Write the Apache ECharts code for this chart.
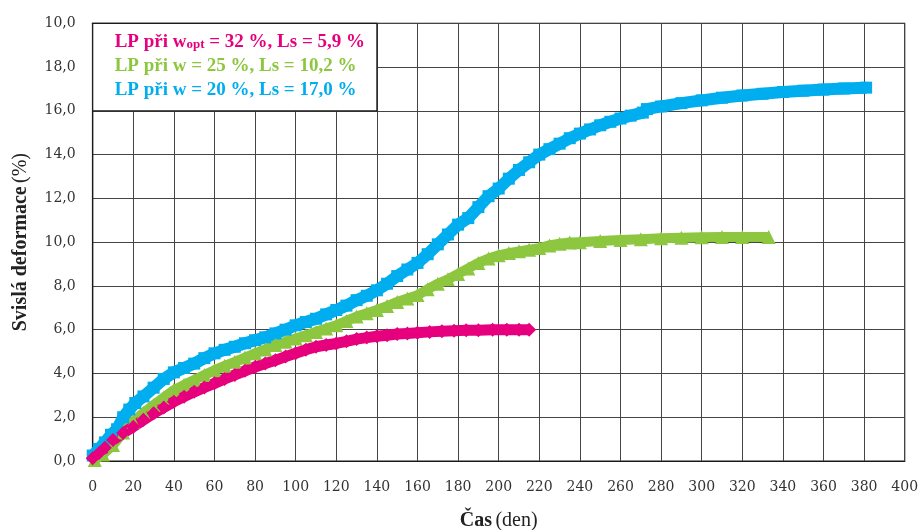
<!DOCTYPE html>
<html>
<head>
<meta charset="utf-8">
<script src="https://cdn.jsdelivr.net/npm/echarts@6/dist/echarts.min.js"></script>
<style>
  html, body { margin: 0; padding: 0; background: #ffffff; }
  #main { width: 918px; height: 530px; }
</style>
</head>
<body>
<div id="main"></div>
<script>
// Vertical deformation over time for three moisture contents
const seriesNames = [
  'LP při w{s|opt} = 32 %, Ls = 5,9 %',
  'LP při w = 25 %, Ls = 10,2 %',
  'LP při w = 20 %, Ls = 17,0 %'
];
const seriesColors = ['#e6007e', '#8dc63f', '#00aeef'];

// w = 20 % (blue)
const daysW20 = [0, 3, 6, 9, 12, 15, 18, 21, 25, 30, 35, 40, 45, 50, 55, 60, 65, 70, 75, 80, 85, 90, 95, 100,
  105, 110, 115, 120, 125, 130, 135, 140, 145, 150, 155, 160, 165, 170, 175, 180, 185, 190, 195, 200,
  205, 210, 215, 220, 225, 230, 235, 240, 245, 250, 255, 260, 265, 271, 273, 280, 290, 300, 310, 320,
  330, 340, 350, 360, 370, 381];
const defW20 = [0.25, 0.55, 0.85, 1.2, 1.45, 2.0, 2.35, 2.65, 2.95, 3.35, 3.75, 4.05, 4.25, 4.45, 4.7, 4.92, 5.08, 5.22, 5.38, 5.52, 5.65, 5.83, 6.0, 6.2,
  6.35, 6.5, 6.7, 6.9, 7.1, 7.35, 7.55, 7.8, 8.1, 8.45, 8.75, 9.05, 9.45, 9.9, 10.35, 10.8, 11.1, 11.6, 12.1, 12.45,
  12.9, 13.3, 13.65, 14.0, 14.25, 14.5, 14.75, 14.96, 15.15, 15.34, 15.5, 15.65, 15.78, 15.92, 16.08, 16.2, 16.35, 16.48, 16.6, 16.7,
  16.78, 16.86, 16.92, 16.97, 17.02, 17.06];

// w = 25 % (green)
const daysW25 = [1, 5, 10, 15, 20, 25, 30, 35, 40, 45, 50, 55, 60, 65, 70, 75, 80, 85, 90, 95, 100,
  105, 110, 115, 120, 125, 130, 135, 140, 145, 150, 155, 160, 165, 170, 175, 180, 185, 190, 195, 200,
  205, 210, 215, 220, 225, 230, 235, 240, 250, 260, 270, 280, 290, 300, 310, 320, 333];
const defW25 = [0.05, 0.3, 0.73, 1.3, 1.8, 2.2, 2.56, 2.9, 3.24, 3.48, 3.7, 3.93, 4.15, 4.35, 4.53, 4.73, 4.92, 5.1, 5.3, 5.45, 5.6,
  5.75, 5.9, 6.05, 6.2, 6.4, 6.6, 6.75, 6.9, 7.08, 7.27, 7.42, 7.58, 7.85, 8.1, 8.3, 8.55, 8.8, 9.05, 9.25, 9.4,
  9.5, 9.58, 9.65, 9.73, 9.85, 9.93, 9.98, 10.0, 10.05, 10.1, 10.13, 10.18, 10.2, 10.22, 10.23, 10.24, 10.24];

// w_opt = 32 % (magenta)
const daysWopt = [0, 3, 6, 10, 15, 20, 25, 30, 35, 40, 45, 50, 55, 60, 65, 70, 75, 80, 85, 90, 95, 100,
  105, 110, 115, 120, 125, 130, 135, 140, 145, 150, 155, 160, 166, 172, 178, 184, 190, 197, 204, 210, 215];
const defWopt = [0.12, 0.35, 0.6, 0.96, 1.28, 1.57, 1.88, 2.18, 2.45, 2.71, 2.94, 3.16, 3.36, 3.55, 3.75, 3.93, 4.12, 4.3, 4.45, 4.6, 4.77, 4.92,
  5.08, 5.22, 5.3, 5.37, 5.47, 5.57, 5.64, 5.7, 5.75, 5.8, 5.83, 5.86, 5.9, 5.93, 5.95, 5.97, 5.98, 6.0, 6.0, 6.0, 6.0];

const xTicks = { min: 0, max: 400, step: 20 };
const yTickLabels = ['0,0', '2,0', '4,0', '6,0', '8,0', '10,0', '12,0', '14,0', '16,0', '18,0', '10,0'];

const pairs = (xs, ys) => xs.map((x, i) => [x, ys[i]]);

const tickFont = 'DejaVu Serif';
const titleFont = 'Liberation Serif';

const chart = echarts.init(document.getElementById('main'), null, { renderer: 'canvas' });

function lineSeries(name, data, color, symbol, size, width) {
  return {
    name: name,
    type: 'line',
    data: data,
    symbol: symbol,
    symbolSize: size,
    showSymbol: true,
    smooth: false,
    lineStyle: { color: color, width: width, cap: 'butt', join: 'round' },
    itemStyle: { color: color, borderWidth: 0 },
    emphasis: { disabled: true },
    animation: false,
    z: 3
  };
}

const option = {
  animation: false,
  backgroundColor: '#ffffff',
  grid: {
    left: 92.7, right: 13.3, top: 23.3, bottom: 69,
    containLabel: false,
    outerBoundsMode: 'none',
    show: true, borderColor: '#1a1a1a', borderWidth: 1.2, backgroundColor: 'transparent'
  },
  xAxis: {
    type: 'value',
    min: xTicks.min, max: xTicks.max, interval: xTicks.step,
    name: '{b|Čas} {r|(den)}',
    nameLocation: 'middle',
    nameGap: 50,
    nameTextStyle: {
      rich: {
        b: { fontFamily: titleFont, fontWeight: 'bold', fontSize: 20, color: '#222' },
        r: { fontFamily: titleFont, fontSize: 20, color: '#222' }
      }
    },
    axisLine: { show: true, lineStyle: { color: '#1a1a1a', width: 1.2 } },
    axisTick: { show: false },
    axisLabel: { fontFamily: tickFont, fontSize: 14, color: '#333', margin: 19 },
    splitLine: { show: true, lineStyle: { color: '#444', width: 1 } }
  },
  yAxis: {
    type: 'value',
    min: 0, max: 20, interval: 2,
    name: '{b|Svislá deformace} {r|(%)}',
    nameLocation: 'middle',
    nameGap: 62,
    nameTextStyle: {
      rich: {
        b: { fontFamily: titleFont, fontWeight: 'bold', fontSize: 20, color: '#222' },
        r: { fontFamily: titleFont, fontSize: 20, color: '#222' }
      }
    },
    axisLine: { show: true, lineStyle: { color: '#1a1a1a', width: 1.2 } },
    axisTick: { show: false },
    axisLabel: {
      fontFamily: tickFont, fontSize: 14, color: '#333', margin: 17,
      padding: [3, 0, 0, 0],
      formatter: (v) => yTickLabels[Math.round(v / 2)]
    },
    splitLine: { show: true, lineStyle: { color: '#444', width: 1 } }
  },
  series: [
    lineSeries(seriesNames[2], pairs(daysW20, defW20), seriesColors[2], 'rect', 12, 12),
    lineSeries(seriesNames[1], pairs(daysW25, defW25), seriesColors[1], 'triangle', 14, 10),
    lineSeries(seriesNames[0], pairs(daysWopt, defWopt), seriesColors[0], 'diamond', 14, 11)
  ]
};

chart.setOption(option);

// Legend panel: white box over the top-left grid cells, with coloured labels
const p0 = chart.convertToPixel({ gridIndex: 0 }, [0, 20]);
const p1 = chart.convertToPixel({ gridIndex: 0 }, [140, 16]);
const legendRows = seriesNames.map((name, i) => ({
  type: 'text',
  left: p0[0] + 22,
  top: p0[1] + 9 + i * 24,
  z: 20,
  style: {
    text: name,
    fill: seriesColors[i],
    font: 'bold 19px "' + titleFont + '"',
    rich: {
      s: { fontFamily: titleFont, fontWeight: 'bold', fontSize: 13, fill: seriesColors[i], lineHeight: 14, verticalAlign: 'bottom' }
    }
  }
}));

chart.setOption({
  graphic: [
    {
      type: 'rect',
      z: 10,
      shape: { x: p0[0], y: p0[1], width: p1[0] - p0[0], height: p1[1] - p0[1] },
      style: { fill: '#ffffff', stroke: '#1a1a1a', lineWidth: 1.2 }
    }
  ].concat(legendRows)
});
</script>
</body>
</html>
